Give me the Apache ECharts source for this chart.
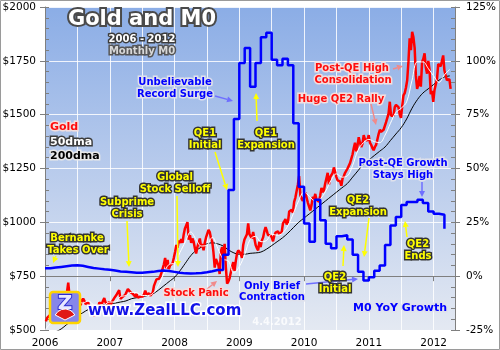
<!DOCTYPE html>
<html>
<head>
<meta charset="utf-8">
<script src="https://cdn.jsdelivr.net/npm/echarts/dist/echarts.min.js"></script>
<style>
  html, body { margin: 0; padding: 0; background: #ffffff; }
  #chart { width: 500px; height: 350px; }
</style>
</head>
<body>
<div id="chart"></div>
<script>
// ---- Gold, weekly closes (first Friday of each year, then every 7 days) ----
const goldStarts = ['2006-01-06', '2007-01-05', '2008-01-04', '2009-01-02', '2010-01-01', '2011-01-07', '2012-01-06'];
const gold2006 = [540,556,562,568, 570,552,550,560, 563,542,552,568,582, 592,598,630,652, 676,720,660,655,
  643,615,570,585,613, 630,664,615,636, 646,635,620,627, 628,608,580,600,600, 565,588,590,598, 628,625,620,636,
  648,628,622,620,632];
const gold2007 = [610,628,630,648, 650,665,665,685, 645,652,655,662,664, 678,690,685,676, 685,668,660,655,
  668,650,655,655,650, 655,665,683,665, 672,670,660,668,673, 705,712,735,743, 738,748,765,785,
  805,835,785,825,783, 800,795,810,835];
const gold2008 = [862,895,882,915, 905,922,905,945,972, 975,1001,920,940, 905,925,910,880, 855,885,885,925,885,
  900,870,905,930, 930,965,955,925, 910,860,790,830,830, 800,760,865,885, 835,900,790,715,725,
  740,740,795,815, 775,820,855,870];
const gold2009 = [878,855,835,895,920, 915,945,995,945, 935,925,955,925, 895,880,870,910, 885,915,930,958,978,
  960,940,932,940, 930,912,938,952,955, 958,945,945,955, 995,1005,1015,990, 1000,1050,1052,1058,1045,
  1095,1115,1145,1175, 1215,1125,1110,1100];
const gold2010 = [1096,1138,1130,1092,1083, 1055,1080,1118,1108, 1132,1105,1105,1095, 1125,1160,1140,1150,1180,
  1205,1230,1175,1210, 1215,1230,1255,1250, 1210,1195,1190,1190,1170, 1205,1215,1230,1235,
  1250,1245,1275,1295, 1315,1345,1370,1330,1355, 1395,1370,1350,1365, 1405,1385,1380,1380,1405];
const gold2011 = [1370,1360,1345,1335, 1350,1360,1385,1410, 1430,1420,1415,1430, 1430,1465,1485,1505,1560,
  1495,1495,1495,1535, 1545,1540,1535,1500, 1485,1540,1590,1600,1625, 1660,1745,1855,1800,
  1885,1860,1810,1680,1620, 1640,1680,1630,1745, 1760,1785,1720,1690, 1750,1710,1595,1610,1560];
const gold2012 = [1615,1640,1665,1735, 1735,1725,1730,1775, 1705,1710,1660,1665,1665, 1620];
const goldYears = [gold2006, gold2007, gold2008, gold2009, gold2010, gold2011, gold2012];

// ---- 50-day moving average (value at the start of each month) ----
const dma50_2006 = [500,530,555,560,595,650,640,625,635,615,595,615];
const dma50_2007 = [630,630,655,660,675,673,660,660,670,705,760,805];
const dma50_2008 = [810,860,910,955,920,890,895,930,880,830,820,765];
const dma50_2009 = [795,850,920,935,910,915,945,940,950,985,1040,1100];
const dma50_2010 = [1140,1120,1100,1110,1145,1195,1225,1210,1215,1265,1335,1370];
const dma50_2011 = [1385,1375,1370,1405,1460,1510,1530,1560,1660,1745,1745,1715];
const dma50_2012 = [1680,1650,1685,1710];
const dma50Years = [dma50_2006, dma50_2007, dma50_2008, dma50_2009, dma50_2010, dma50_2011, dma50_2012];

// ---- 200-day moving average (value at the start of each month) ----
const dma200_2006 = [470,482,492,505,525,545,565,580,595,605,612,618];
const dma200_2007 = [622,625,630,635,645,650,655,660,668,685,705,725];
const dma200_2008 = [745,775,810,845,870,885,900,905,900,890,872,858];
const dma200_2009 = [852,852,856,858,862,875,892,910,928,950,975,1000];
const dma200_2010 = [1020,1040,1060,1080,1100,1120,1140,1160,1180,1210,1240,1270];
const dma200_2011 = [1290,1310,1330,1350,1380,1410,1440,1480,1530,1570,1600,1620];
const dma200_2012 = [1640,1660,1675,1680];
const dma200Years = [dma200_2006, dma200_2007, dma200_2008, dma200_2009, dma200_2010, dma200_2011, dma200_2012];

// ---- Monetary base (M0), year-over-year growth in %, monthly ----
const m0_2006 = [3.7,4.0,4.3,4.6,4.9,5.1,4.8,4.3,3.8,3.5,3.2,3.0];
const m0_2007 = [2.6,2.2,2.0,1.8,1.6,1.6,1.8,2.0,2.4,2.6,2.4,2.0];
const m0_2008 = [1.6,1.3,1.2,1.3,1.5,1.8,2.3,2.9,2.9,10,40,73];
const m0_2009 = [99,106,88,99,111,113,100.5,98,101,98,71,41.5];
const m0_2010 = [24.5,16,35.5,26,15,13,18.5,19,17,10,2,-2];
const m0_2011 = [-0.5,2.5,5,14.5,23.5,27.5,33,34.5,34.5,35.5,34,30];
const m0_2012 = [29,28.5,22];
const m0Years = [m0_2006, m0_2007, m0_2008, m0_2009, m0_2010, m0_2011, m0_2012];

const firstYear = 2006;
const yearTicks = [2006, 2007, 2008, 2009, 2010, 2011, 2012];
const priceTicks = [500, 750, 1000, 1250, 1500, 1750, 2000];
const growthTicks = [-25, 0, 25, 50, 75, 100, 125];

// calendar date -> fractional year, so the value axis can place it
function fracYear(ms) {
  const y = new Date(ms).getUTCFullYear();
  const a = Date.UTC(y, 0, 1), b = Date.UTC(y + 1, 0, 1);
  return y + (ms - a) / (b - a);
}
function weeklySeries(starts, blocks) {
  const out = [];
  blocks.forEach((vals, k) => {
    const [y, m, d] = starts[k].split('-').map(Number);
    const t0 = Date.UTC(y, m - 1, d);
    vals.forEach((v, i) => out.push([fracYear(t0 + i * 7 * 86400000), v]));
  });
  return out;
}
function monthlySeries(blocks) {
  const out = [];
  blocks.forEach((vals, k) => vals.forEach((v, i) => out.push([firstYear + k + i / 12, v])));
  return out;
}

const goldData = weeklySeries(goldStarts, goldYears);
const dma50Data = monthlySeries(dma50Years);
const dma200Data = monthlySeries(dma200Years);
const m0Data = monthlySeries(m0Years);

// ---- annotation helpers ----
const FONT = '"DejaVu Sans", Verdana, sans-serif';
const palettes = {
  yellow: { fill: '#ffff00', stroke: '#333333' },
  red:    { fill: '#ff0c0c', stroke: '#f3dede' },
  blue:   { fill: '#0000ff', stroke: '#dfe1ec' },
  white:  { fill: '#ffffff', stroke: '#3c3c3c' },
  black:  { fill: '#000000', stroke: '#e8e8e8' }
};
function label(x, y, text, kind, size, align) {
  const p = palettes[kind];
  return {
    type: 'text', z: 100,
    style: {
      text: text, x: x, y: y,
      font: 'bold ' + size + 'px ' + FONT,
      fill: p.fill, stroke: p.stroke, lineWidth: 3,
      align: align || 'center', verticalAlign: 'middle',
      shadowColor: 'rgba(0,0,0,0.35)', shadowBlur: 2, shadowOffsetX: 1, shadowOffsetY: 1
    }
  };
}
function arrow(x1, y1, x2, y2, color) {
  const a = Math.atan2(y2 - y1, x2 - x1), L = 6, W = 3;
  const bx = x2 - L * Math.cos(a), by = y2 - L * Math.sin(a);
  const px = -Math.sin(a) * W, py = Math.cos(a) * W;
  return [
    { type: 'line', z: 90, shape: { x1: x1, y1: y1, x2: bx, y2: by }, style: { stroke: color, lineWidth: 1.5 } },
    { type: 'polygon', z: 90, shape: { points: [[x2, y2], [bx + px, by + py], [bx - px, by - py]] }, style: { fill: color } }
  ];
}

const YEL = '#ffff00', PINK = '#f08a8a', LBLUE = '#6f6fff';
const annotations = [].concat(
  arrow(215, 96, 233, 101, LBLUE),
  arrow(215, 152, 227, 190, YEL),
  arrow(257, 121, 256, 93, YEL),
  arrow(177, 196, 178, 267, YEL),
  arrow(127, 221, 129, 267, YEL),
  arrow(56, 256, 53, 263, YEL),
  arrow(207, 289, 217, 281, PINK),
  arrow(306, 284, 358, 279, LBLUE),
  arrow(343, 266, 344, 245, YEL),
  arrow(369, 218, 364, 257, YEL),
  arrow(422, 182, 422, 197, LBLUE),
  arrow(407, 237, 405, 221, YEL),
  arrow(393, 69, 403, 66, PINK),
  arrow(371, 104, 376, 125, PINK),
  [
    // outer frame
    { type: 'rect', z: 120, silent: true, shape: { x: 0.5, y: 0.5, width: 499, height: 349 },
      style: { fill: 'none', stroke: '#9a9a9a', lineWidth: 1 } },
    // title block
    { type: 'text', z: 100, style: { text: 'Gold and M0', x: 142, y: 20, font: 'bold 21px ' + FONT,
      fill: '#ffffff', stroke: '#4a4a4a', lineWidth: 4, align: 'center', verticalAlign: 'middle',
      shadowColor: 'rgba(0,0,0,0.45)', shadowBlur: 3, shadowOffsetX: 1, shadowOffsetY: 1 } },
    label(142, 39, '2006 - 2012', 'white', 10),
    { type: 'text', z: 100, style: { text: 'Monthly M0', x: 142, y: 51, font: 'bold 10px ' + FONT,
      fill: '#d8d8d8', stroke: '#555555', lineWidth: 3, align: 'center', verticalAlign: 'middle',
      shadowColor: 'rgba(0,0,0,0.35)', shadowBlur: 2, shadowOffsetX: 1, shadowOffsetY: 1 } },
    // legend
    label(50, 127, 'Gold', 'red', 11, 'left'),
    label(50, 142, '50dma', 'white', 11, 'left'),
    label(50, 156, '200dma', 'black', 11, 'left'),
    // event notes
    label(175, 82, 'Unbelievable', 'blue', 10),
    label(175, 94, 'Record Surge', 'blue', 10),
    label(205, 133, 'QE1', 'yellow', 10),
    label(205, 145, 'Initial', 'yellow', 10),
    label(266, 133, 'QE1', 'yellow', 10),
    label(266, 145, 'Expansion', 'yellow', 10),
    label(175, 177, 'Global', 'yellow', 10),
    label(175, 189, 'Stock Selloff', 'yellow', 10),
    label(127, 202, 'Subprime', 'yellow', 10),
    label(127, 214, 'Crisis', 'yellow', 10),
    label(77, 238, 'Bernanke', 'yellow', 10),
    label(78, 250, 'Takes Over', 'yellow', 10),
    label(196, 293, 'Stock Panic', 'red', 10),
    label(272, 286, 'Only Brief', 'blue', 10),
    label(272, 297, 'Contraction', 'blue', 10),
    label(335, 277, 'QE2', 'yellow', 10),
    label(335, 289, 'Initial', 'yellow', 10),
    label(358, 200, 'QE2', 'yellow', 10),
    label(358, 212, 'Expansion', 'yellow', 10),
    label(403, 163, 'Post-QE Growth', 'blue', 10),
    label(403, 175, 'Stays High', 'blue', 10),
    label(418, 244, 'QE2', 'yellow', 10),
    label(418, 256, 'Ends', 'yellow', 10),
    label(352, 68, 'Post-QE High', 'red', 10),
    label(353, 80, 'Consolidation', 'red', 10),
    label(341, 99, 'Huge QE2 Rally', 'red', 10),
    label(400, 308, 'M0 YoY Growth', 'blue', 11),
    { type: 'text', z: 100, style: { text: '4.4.2012', x: 277, y: 322, font: 'bold 10px ' + FONT,
      fill: 'rgba(255,255,255,0.8)', align: 'center', verticalAlign: 'middle' } },
    // publisher mark
    { type: 'rect', z: 100, shape: { x: 50, y: 292, width: 30, height: 31, r: 3 },
      style: { fill: '#8686ea', stroke: '#ffd400', lineWidth: 2.5 } },
    { type: 'text', z: 101, style: { text: 'Z', x: 65, y: 304, font: 'bold 20px ' + FONT,
      fill: '#e8e8ff', stroke: '#2a2ad0', lineWidth: 2, align: 'center', verticalAlign: 'middle' } },
    { type: 'sector', z: 102, shape: { cx: 65, cy: 320, r: 11, r0: 0, startAngle: Math.PI * 1.15, endAngle: Math.PI * 1.85 },
      style: { fill: '#e01818', stroke: '#ffffff', lineWidth: 1 } },
    { type: 'text', z: 100, style: { text: 'www.ZealLLC.com', x: 88, y: 311, font: 'bold 15px ' + FONT,
      fill: '#1212e8', stroke: '#ffffff', lineWidth: 3, align: 'left', verticalAlign: 'middle',
      shadowColor: 'rgba(0,0,0,0.45)', shadowBlur: 3, shadowOffsetX: 1, shadowOffsetY: 1 } }
  ]
);

const AXIS_GRAY = '#7f7f7f';
const labelFont = { fontFamily: FONT, fontSize: 10.5, color: '#000000' };
const X_MAX = 2012.33;

const option = {
  animation: false,
  grid: {
    left: 45, right: 45, top: 7, bottom: 20, show: true, borderWidth: 0,
    outerBoundsMode: 'none',
    backgroundColor: new echarts.graphic.LinearGradient(0, 0, 0, 1, [
      { offset: 0, color: '#8badE6' },
      { offset: 0.5, color: '#b8cbec' },
      { offset: 1, color: '#e4e9f2' }
    ])
  },
  xAxis: [
    {
      type: 'value', min: yearTicks[0], max: X_MAX, interval: 1,
      axisLine: { lineStyle: { color: AXIS_GRAY, width: 1 } },
      axisTick: { lineStyle: { color: AXIS_GRAY }, length: 5 },
      axisLabel: Object.assign({ margin: 8, showMaxLabel: false,
        formatter: v => (yearTicks.indexOf(Math.round(v * 1000) / 1000) >= 0 ? String(v) : '') }, labelFont),
      splitLine: { show: false }
    },
    {
      type: 'value', min: yearTicks[0], max: X_MAX, interval: 0.5, position: 'bottom',
      axisLine: { show: false }, axisTick: { show: false }, axisLabel: { show: false },
      splitLine: { show: true, lineStyle: { color: 'rgba(255,255,255,0.85)', width: 1 } }
    }
  ],
  yAxis: [
    {
      type: 'value', position: 'left', min: priceTicks[0], max: priceTicks[priceTicks.length - 1], interval: 250,
      axisLine: { show: true, lineStyle: { color: AXIS_GRAY } },
      axisTick: { show: true, length: 5, lineStyle: { color: AXIS_GRAY } },
      axisLabel: Object.assign({ margin: 9, formatter: v => '$' + v }, labelFont),
      splitLine: { show: true, lineStyle: { color: 'rgba(255,255,255,0.85)', width: 1 } }
    },
    {
      type: 'value', position: 'right', min: growthTicks[0], max: growthTicks[growthTicks.length - 1], interval: 25,
      axisLine: { show: true, lineStyle: { color: AXIS_GRAY } },
      axisTick: { show: true, length: 5, lineStyle: { color: AXIS_GRAY } },
      axisLabel: Object.assign({ margin: 11, formatter: v => v + '%' }, labelFont),
      splitLine: { show: false }
    },
    {
      type: 'value', position: 'left', min: priceTicks[0], max: priceTicks[priceTicks.length - 1], interval: 50,
      axisLine: { show: false }, axisLabel: { show: false }, splitLine: { show: false },
      axisTick: { show: true, inside: true, length: 4, lineStyle: { color: AXIS_GRAY } }
    },
    {
      type: 'value', position: 'right', min: growthTicks[0], max: growthTicks[growthTicks.length - 1], interval: 5,
      axisLine: { show: false }, axisLabel: { show: false }, splitLine: { show: false },
      axisTick: { show: true, inside: true, length: 4, lineStyle: { color: AXIS_GRAY } }
    }
  ],
  series: [
    { name: '200dma', type: 'line', xAxisIndex: 0, yAxisIndex: 0, data: dma200Data, smooth: 0.4,
      showSymbol: false, lineStyle: { color: '#000000', width: 1 }, z: 3 },
    { name: 'Gold', type: 'line', xAxisIndex: 0, yAxisIndex: 0, data: goldData,
      showSymbol: false, lineStyle: { color: '#ff0000', width: 2.5 }, z: 4 },
    { name: '50dma', type: 'line', xAxisIndex: 0, yAxisIndex: 0, data: dma50Data, smooth: 0.4,
      showSymbol: false, lineStyle: { color: '#ffffff', width: 1 }, z: 5 },
    { name: 'M0 YoY Growth', type: 'line', xAxisIndex: 0, yAxisIndex: 1, data: m0Data, step: 'end',
      showSymbol: false, lineStyle: { color: '#0000ff', width: 2.5 }, z: 6 }
  ],
  graphic: { elements: annotations }
};

const chart = echarts.init(document.getElementById('chart'), null, { renderer: 'canvas' });
chart.setOption(option);
</script>
</body>
</html>
